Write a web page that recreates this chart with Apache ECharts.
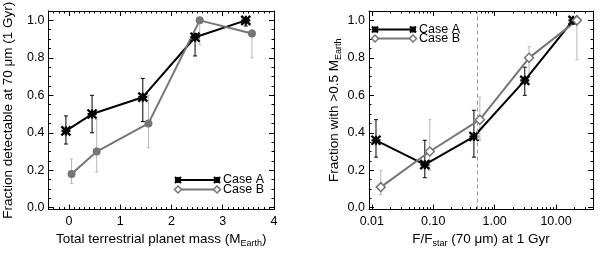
<!DOCTYPE html>
<html><head><meta charset="utf-8">
<script src="https://cdn.jsdelivr.net/npm/echarts@6/dist/echarts.min.js"></script>
<style>html,body{margin:0;padding:0;background:#fff}#c{width:600px;height:253px}</style>
</head><body><div id="c"></div>
<script>
// ---------- data ----------
const massTicks = [0, 1, 2, 3, 4];
const fracTicks = [0, 0.2, 0.4, 0.6, 0.8, 1.0];
const fluxTicks = [0.01, 0.1, 1, 10];

// Left panel: fraction detectable at 70um vs total terrestrial planet mass
const massA_x  = [-0.06, 0.45, 1.44, 2.46, 3.45];
const massA_y  = [0.41, 0.50, 0.59, 0.91, 1.00];
const massA_lo = [0.34, 0.40, 0.46, 0.81, 0.97];
const massA_hi = [0.49, 0.60, 0.69, 0.93, 1.00];
const massB_x  = [0.05, 0.54, 1.55, 2.55, 3.57];
const massB_y  = [0.18, 0.30, 0.45, 1.00, 0.93];
const massB_lo = [0.13, 0.19, 0.32, 0.87, 0.80];
const massB_hi = [0.26, 0.47, 0.60, 1.00, 0.95];

// Right panel: fraction with >0.5 M_Earth vs F/F_star
const fluxA_x  = [0.0117, 0.073, 0.46, 3.1, 18.9];
const fluxA_y  = [0.36, 0.23, 0.38, 0.68, 1.00];
const fluxA_lo = [0.27, 0.16, 0.27, 0.60, 0.98];
const fluxA_hi = [0.47, 0.36, 0.52, 0.75, 1.00];
const fluxB_x  = [0.014, 0.088, 0.575, 3.64, 21.9];
const fluxB_y  = [0.11, 0.30, 0.47, 0.80, 1.00];
const fluxB_lo = [0.07, 0.20, 0.36, 0.70, 0.79];
const fluxB_hi = [0.20, 0.47, 0.59, 0.86, 1.00];

const fluxThreshold = 0.52;
const legendNames = ['Case A', 'Case B'];

// ---------- styling ----------
const FONT = '"Liberation Sans", Arial, Helvetica, sans-serif';
const COL_A = '#000000';
const COL_B = '#767676';
const ERR_A = '#000000';
const ERR_B = '#b8b8b8';
const ASTER = 'path://M0,0L10,10M10,0L0,10M5,0L5,10M0,5L10,5';
const TICK_FS = 12.5;
const TITLE_FS = 13.5;

function range(a, b, s) { const r = []; for (let v = a; v <= b + 1e-9; v += s) r.push(+v.toFixed(4)); return r; }
const massMinor = range(-0.4, 4, 0.1);
const fracMinor = range(0, 1.05, 0.05);
const fluxMinor = [];
[0.001, 0.01, 0.1, 1, 10].forEach(d => { for (let k = 2; k <= 9; k++) { const v = +(d * k).toPrecision(3); if (v > 0.009 && v < 40) fluxMinor.push(v); } });

const rich = {
  a: { fontSize: TITLE_FS, lineHeight: 17, fontFamily: FONT, color: '#000' },
  b: { fontSize: 9, lineHeight: 8, verticalAlign: 'bottom', fontFamily: FONT, color: '#000' }
};

function axisSet(kind, g, cfg) {
  const main = kind === 'x' ? 'bottom' : 'left';
  const mirror = kind === 'x' ? 'top' : 'right';
  const base = { gridIndex: g, type: cfg.type, min: cfg.min, max: cfg.max,
    splitLine: { show: false }, splitArea: { show: false }, axisPointer: { show: false } };
  if (cfg.type === 'log') base.logBase = 10;
  const mk = (pos, showLine, ticks, len, labels) => Object.assign({}, base, {
    position: pos,
    axisLine: { show: showLine, onZero: false, lineStyle: { color: '#000', width: 1 } },
    axisTick: { show: true, inside: true, length: len, customValues: ticks, lineStyle: { color: '#000', width: 1 } },
    axisLabel: labels ? { show: true, customValues: cfg.major, formatter: cfg.fmt, margin: cfg.margin,
      fontSize: TICK_FS, fontFamily: FONT, color: '#000' } : { show: false }
  });
  const first = mk(main, true, cfg.major, 5, true);
  first.name = cfg.name;
  first.nameLocation = 'middle';
  first.nameGap = cfg.nameGap;
  if (kind === 'y') first.nameRotate = 90;
  first.nameTextStyle = { fontSize: TITLE_FS, fontFamily: FONT, color: '#000', rich: rich };
  return [first, mk(main, false, cfg.minor, 2.5, false), mk(mirror, true, cfg.major, 5, false), mk(mirror, false, cfg.minor, 2.5, false)];
}

const xAxes = [].concat(
  axisSet('x', 0, { type: 'value', min: -0.4, max: 4, major: massTicks, minor: massMinor, fmt: v => String(v), margin: 5,
    name: '{a|Total terrestrial planet mass (M}{b|Earth}{a|)}', nameGap: 13 }),
  axisSet('x', 1, { type: 'log', min: 0.009, max: 40, major: fluxTicks, minor: fluxMinor, fmt: v => Number(v).toFixed(2), margin: 5,
    name: '{a|F/F}{b|star}{a| (70 μm) at 1 Gyr}', nameGap: 13 })
);
const yAxes = [].concat(
  axisSet('y', 0, { type: 'value', min: -0.01, max: 1.05, major: fracTicks, minor: fracMinor, fmt: v => Number(v).toFixed(1), margin: 4,
    name: '{a|Fraction detectable at 70 μm (1 Gyr)}', nameGap: 32 }),
  axisSet('y', 1, { type: 'value', min: -0.01, max: 1.05, major: fracTicks, minor: fracMinor, fmt: v => Number(v).toFixed(1), margin: 4,
    name: '{a|Fraction with >0.5 M}{b|Earth}', nameGap: 26 })
);

function pts(x, y) { return x.map((v, i) => [v, y[i]]); }
function errs(x, lo, hi) { return x.map((v, i) => [v, lo[i], hi[i]]); }
function errRender(color, cap) {
  return function (params, api) {
    const x = api.value(0);
    const p1 = api.coord([x, api.value(1)]);
    const p2 = api.coord([x, api.value(2)]);
    const ch = [{ type: 'line', shape: { x1: p1[0], y1: p1[1], x2: p2[0], y2: p2[1] }, style: { stroke: color, lineWidth: 1 } }];
    if (cap) {
      ch.push({ type: 'line', shape: { x1: p1[0] - cap, y1: p1[1], x2: p1[0] + cap, y2: p1[1] }, style: { stroke: color, lineWidth: 1 } });
      ch.push({ type: 'line', shape: { x1: p2[0] - cap, y1: p2[1], x2: p2[0] + cap, y2: p2[1] }, style: { stroke: color, lineWidth: 1 } });
    }
    return { type: 'group', children: ch };
  };
}
function errSeries(xi, yi, data, color, cap) {
  return { type: 'custom', xAxisIndex: xi, yAxisIndex: yi, data: data, encode: { x: 0, y: [1, 2] },
    renderItem: errRender(color, cap), silent: true, z: 1 };
}
function lineSeries(name, xi, yi, data, color, symbol, size, item, extra) {
  return Object.assign({ name: name, type: 'line', xAxisIndex: xi, yAxisIndex: yi, data: data, symbol: symbol, symbolSize: size,
    showSymbol: true, lineStyle: { color: color, width: 2 }, itemStyle: item, z: 3, silent: true, animation: false }, extra || {});
}

const asterItem = { color: COL_A, borderColor: COL_A, borderWidth: 2.3 };
const series = [
  errSeries(0, 0, errs(massA_x, massA_lo, massA_hi), ERR_A, 2),
  errSeries(0, 0, errs(massB_x, massB_lo, massB_hi), ERR_B, 1.5),
  lineSeries(legendNames[0], 0, 0, pts(massA_x, massA_y), COL_A, ASTER, 9, asterItem),
  lineSeries(legendNames[1], 0, 0, pts(massB_x, massB_y), COL_B, 'circle', 8, { color: COL_B, borderColor: COL_B, borderWidth: 0 }),
  errSeries(4, 4, errs(fluxA_x, fluxA_lo, fluxA_hi), ERR_A, 2),
  errSeries(4, 4, errs(fluxB_x, fluxB_lo, fluxB_hi), ERR_B, 1.5),
  lineSeries(legendNames[0], 4, 4, pts(fluxA_x, fluxA_y), COL_A, ASTER, 9, asterItem, {
    markLine: { silent: true, symbol: 'none', label: { show: false }, animation: false,
      lineStyle: { color: '#9a9a9a', type: [4, 3], width: 1 }, data: [{ xAxis: fluxThreshold }] } }),
  lineSeries(legendNames[1], 4, 4, pts(fluxB_x, fluxB_y), COL_B, 'diamond', 9, { color: '#fff', borderColor: COL_B, borderWidth: 1.5 })
];

// legend drawn as IDL-style line samples
function asterisk(cx, cy, r, color) {
  const s = { stroke: color, lineWidth: 2.2 };
  return [
    { type: 'line', shape: { x1: cx - r, y1: cy - r, x2: cx + r, y2: cy + r }, style: s },
    { type: 'line', shape: { x1: cx - r, y1: cy + r, x2: cx + r, y2: cy - r }, style: s },
    { type: 'line', shape: { x1: cx - r, y1: cy, x2: cx + r, y2: cy }, style: s },
    { type: 'line', shape: { x1: cx, y1: cy - r, x2: cx, y2: cy + r }, style: s }
  ];
}
function diamond(cx, cy, r, color) {
  return [{ type: 'polygon', shape: { points: [[cx, cy - r], [cx + r, cy], [cx, cy + r], [cx - r, cy]] },
    style: { fill: '#fff', stroke: color, lineWidth: 1.5 } }];
}
function legendBlock(x0, x1, yA, yB) {
  const el = [];
  el.push({ type: 'line', shape: { x1: x0, y1: yA, x2: x1, y2: yA }, style: { stroke: COL_A, lineWidth: 2 } });
  el.push(...asterisk(x0, yA, 3, COL_A), ...asterisk(x1, yA, 3, COL_A));
  el.push({ type: 'line', shape: { x1: x0, y1: yB, x2: x1, y2: yB }, style: { stroke: COL_B, lineWidth: 2 } });
  el.push(...diamond(x0, yB, 3.5, COL_B), ...diamond(x1, yB, 3.5, COL_B));
  el.push({ type: 'text', style: { x: x1 + 6, y: yA, text: legendNames[0], fill: '#000', font: '12.5px ' + FONT, verticalAlign: 'middle' } });
  el.push({ type: 'text', style: { x: x1 + 6, y: yB, text: legendNames[1], fill: '#000', font: '12.5px ' + FONT, verticalAlign: 'middle' } });
  return el;
}

const chart = echarts.init(document.getElementById('c'), null, { renderer: 'canvas' });
chart.setOption({
  animation: false,
  backgroundColor: '#fff',
  grid: [
    { left: 45, top: 11, width: 229, height: 207 },
    { left: 369, top: 11, width: 224, height: 207 }
  ],
  xAxis: xAxes,
  yAxis: yAxes,
  series: series,
  graphic: [].concat(legendBlock(178, 217, 180, 189.5), legendBlock(375, 413, 29.5, 38.5))
});
</script>
</body></html>
